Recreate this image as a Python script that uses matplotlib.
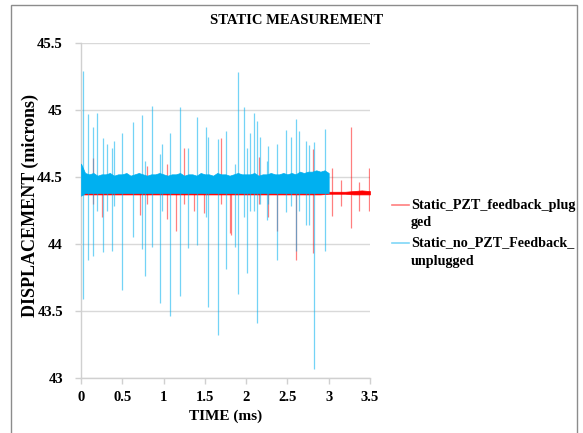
# Static measurement chart: displacement vs time, PZT feedback plugged / unplugged
import numpy as np
import matplotlib.pyplot as plt
from matplotlib.patches import Rectangle
from matplotlib.lines import Line2D

plt.rcParams['font.family'] = ['Liberation Serif', 'DejaVu Serif']
plt.rcParams['font.weight'] = 'bold'

# ==========================================
# DATA
# ==========================================

series_names = [["Static_PZT_feedback_plug", "ged"],
                ["Static_no_PZT_Feedback_", "unplugged"]]

# dense noise band of the unplugged run (0 .. 3.0 ms, every 0.05 ms)
blue_band_t = np.linspace(0.0, 3.0, 61)
blue_band_hi = [
    44.60, 44.53, 44.52, 44.53, 44.51, 44.52, 44.52, 44.53, 44.51, 44.52, 44.52,
    44.53, 44.51, 44.52, 44.53, 44.52, 44.51, 44.52, 44.52, 44.53, 44.52,
    44.51, 44.52, 44.52, 44.53, 44.51, 44.52, 44.52, 44.51, 44.53, 44.52,
    44.52, 44.51, 44.53, 44.52, 44.52, 44.51, 44.52, 44.53, 44.52, 44.52,
    44.52, 44.53, 44.51, 44.52, 44.52, 44.53, 44.52, 44.52, 44.53, 44.52,
    44.53, 44.52, 44.54, 44.53, 44.54, 44.54, 44.55, 44.54, 44.55, 44.53,
]
blue_band_lo = [
    44.36, 44.38, 44.38, 44.38, 44.38, 44.38, 44.38, 44.38, 44.38, 44.38, 44.38,
    44.38, 44.38, 44.38, 44.38, 44.38, 44.38, 44.38, 44.38, 44.38, 44.38,
    44.38, 44.38, 44.38, 44.38, 44.38, 44.38, 44.38, 44.38, 44.38, 44.38,
    44.38, 44.38, 44.38, 44.38, 44.38, 44.38, 44.38, 44.38, 44.38, 44.38,
    44.38, 44.38, 44.38, 44.38, 44.38, 44.38, 44.38, 44.38, 44.38, 44.38,
    44.38, 44.38, 44.38, 44.38, 44.38, 44.38, 44.38, 44.38, 44.38, 44.38,
]

# baseline of the plugged run (0 .. 3.5 ms, every 0.1 ms)
red_band_t = np.linspace(0.0, 3.5, 36)
red_band_hi = [
    44.39, 44.39, 44.39, 44.39, 44.39, 44.39, 44.39, 44.39, 44.39, 44.39,
    44.39, 44.39, 44.39, 44.39, 44.39, 44.39, 44.39, 44.39, 44.39, 44.39,
    44.39, 44.39, 44.39, 44.39, 44.39, 44.39, 44.39, 44.39, 44.39, 44.39,
    44.39, 44.39, 44.39, 44.395, 44.40, 44.395,
]
red_band_lo = [
    44.37, 44.37, 44.37, 44.37, 44.37, 44.37, 44.37, 44.37, 44.37, 44.37,
    44.37, 44.37, 44.37, 44.37, 44.37, 44.37, 44.37, 44.37, 44.37, 44.37,
    44.37, 44.37, 44.37, 44.37, 44.37, 44.37, 44.37, 44.37, 44.37, 44.37,
    44.375, 44.375, 44.375, 44.37, 44.37, 44.37,
]

# spikes of the unplugged run: time, max, min
blue_spike_t = [0.028, 0.085, 0.15, 0.19, 0.27, 0.31, 0.37, 0.40, 0.50, 0.625,
                0.745, 0.77, 0.855, 0.96, 0.98, 1.08, 1.20, 1.30, 1.41, 1.52,
                1.54, 1.66, 1.76, 1.86, 1.897, 1.98, 2.01, 2.05, 2.09, 2.13,
                2.17, 2.25, 2.26, 2.37, 2.48, 2.54, 2.60, 2.64, 2.72, 2.76,
                2.825, 2.95]
blue_spike_hi = [45.29, 44.97, 44.87, 44.98, 44.79, 44.75, 44.72, 44.77, 44.83, 44.91,
                 44.96, 44.62, 45.03, 44.67, 44.75, 44.83, 45.02, 44.72, 44.95, 44.87,
                 44.80, 44.78, 44.84, 44.60, 45.28, 45.02, 44.72, 44.83, 44.98, 44.92,
                 44.80, 44.62, 44.73, 44.75, 44.85, 44.80, 44.93, 44.84, 44.77, 44.74,
                 44.76, 44.86]
blue_spike_lo = [43.59, 43.88, 43.91, 44.25, 43.94, 44.25, 43.95, 44.28, 43.66, 44.05,
                 43.96, 43.76, 43.98, 43.56, 44.25, 43.46, 43.61, 43.97, 43.99, 44.20,
                 43.53, 43.32, 43.81, 43.98, 43.63, 44.20, 43.78, 44.25, 44.25, 43.41,
                 44.30, 44.18, 44.30, 43.88, 44.24, 44.28, 43.95, 44.25, 44.14, 44.14,
                 43.07, 43.95]

# spikes of the plugged run: time, max, min
red_spike_t = [0.15, 0.25, 0.72, 0.80, 1.04, 1.15, 1.25, 1.37, 1.49, 1.70,
               1.80, 1.82, 2.15, 2.26, 2.37, 2.60, 2.81, 3.04, 3.155, 3.265,
               3.37, 3.49]
red_spike_hi = [44.64, 44.45, 44.45, 44.58, 44.60, 44.45, 44.72, 44.45, 44.45, 44.79,
                44.45, 44.45, 44.65, 44.45, 44.45, 44.50, 44.71, 44.57, 44.48, 44.87,
                44.46, 44.57]
red_spike_lo = [44.30, 44.20, 44.22, 44.30, 44.19, 44.10, 44.30, 44.25, 44.23, 44.30,
                44.08, 44.07, 44.30, 44.20, 44.10, 43.88, 43.93, 44.21, 44.28, 44.12,
                44.25, 44.25]

x_ticks = [0, 0.5, 1, 1.5, 2, 2.5, 3, 3.5]
x_tick_labels = ["0", "0.5", "1", "1.5", "2", "2.5", "3", "3.5"]
y_ticks = [43, 43.5, 44, 44.5, 45, 45.5]
y_tick_labels = ["43", "43.5", "44", "44.5", "45", "45.5"]

RED = "#FF0000"
BLUE = "#00B0F0"

# ==========================================
# PLOT
# ==========================================

fig = plt.figure(figsize=(5.83, 4.33), dpi=100)
ax = fig.add_axes([0.1389, 0.127, 0.4957, 0.7737])

# plugged run first, unplugged drawn over it
ax.fill_between(red_band_t, red_band_lo, red_band_hi, color=RED, lw=0.5, zorder=2)
ax.vlines(red_spike_t, red_spike_lo, red_spike_hi, color=RED, alpha=0.5, lw=0.9, zorder=2)

ax.vlines(blue_spike_t, blue_spike_lo, blue_spike_hi, color=BLUE, alpha=0.55, lw=0.9, zorder=3)
ax.fill_between(blue_band_t, blue_band_lo, blue_band_hi, color=BLUE, lw=0.5, zorder=3)

ax.set_xlim(0, 3.5)
ax.set_ylim(43, 45.5)
ax.set_xticks(x_ticks)
ax.set_xticklabels(x_tick_labels)
ax.set_yticks(y_ticks)
ax.set_yticklabels(y_tick_labels)

ax.grid(axis="y", color="#D9D9D9", lw=1.0, zorder=0)
ax.set_axisbelow(True)
for side in ["top", "right"]:
    ax.spines[side].set_visible(False)
for side in ["left", "bottom"]:
    ax.spines[side].set_color("#D0D0D0")
    ax.spines[side].set_linewidth(1.0)

ax.tick_params(axis="both", direction="out", length=4, width=1, color="#D0D0D0",
               labelsize=10.5, labelcolor="black")
ax.tick_params(axis="y", pad=9)
ax.tick_params(axis="x", pad=5)

fig.text(297 / 583, 1 - 20 / 433, "STATIC MEASUREMENT", fontsize=10.5,
         fontweight="bold", ha="center", va="center")
ax.set_xlabel("TIME (ms)", fontsize=11, fontweight="bold", labelpad=4)
ax.set_ylabel("DISPLACEMENT (microns)", fontsize=13, fontweight="bold")
ax.yaxis.set_label_coords(-0.145, 0.516)

# legend, drawn by hand so the key sits on the first line of each name
legend_colors = [RED, BLUE]
legend_rows = [205, 243]
for color, row, lines in zip(legend_colors, legend_rows, series_names):
    y0 = 1 - row / 433
    fig.add_artist(Line2D([392 / 583, 409 / 583], [y0, y0], transform=fig.transFigure,
                          color=color, alpha=0.5, lw=1.2))
    for k, txt in enumerate(lines):
        fig.text(411 / 583, 1 - (row + 18 * k) / 433, txt, fontsize=10.2,
                 fontweight="bold", ha="left", va="center")

# outer chart border
fig.add_artist(Rectangle((11 / 583, -0.05), 566 / 583, 1.0 - 5 / 433 + 0.05,
                         transform=fig.transFigure, fill=False,
                         edgecolor="#8C8C8C", lw=1.0))

plt.savefig("out.png", dpi=100)
